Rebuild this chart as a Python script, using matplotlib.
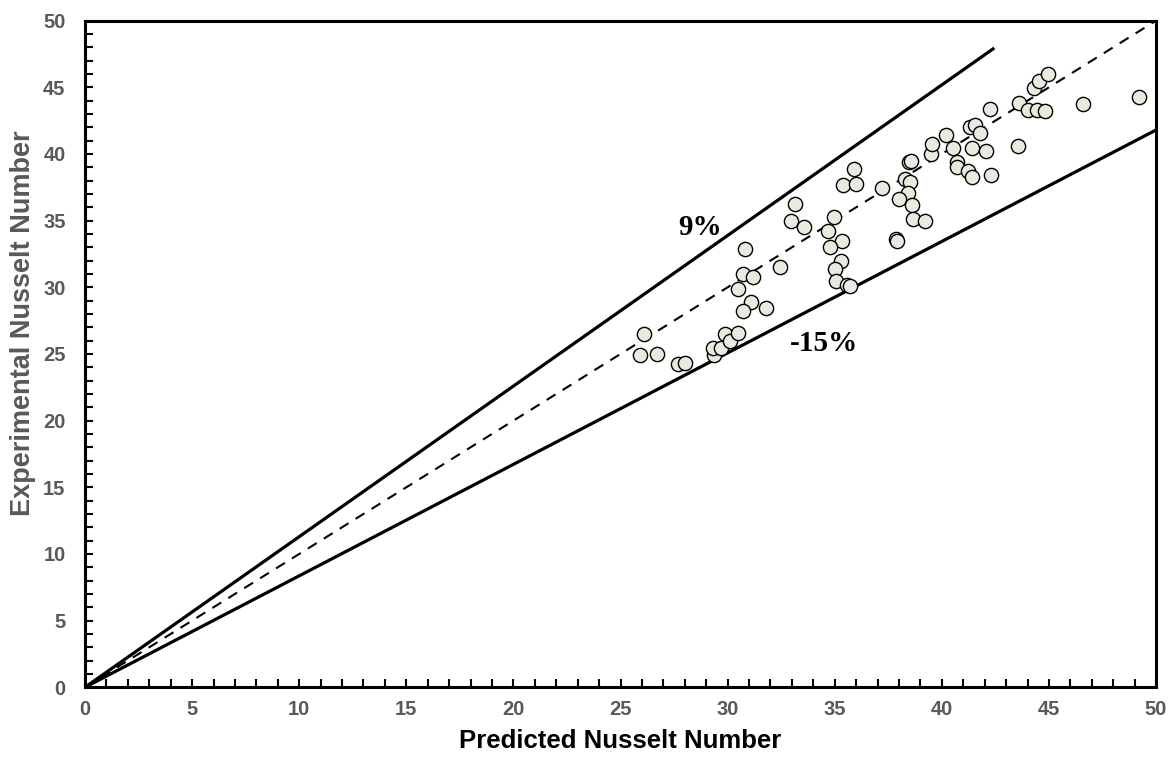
import matplotlib
matplotlib.use("Agg")
import matplotlib.pyplot as plt
from matplotlib.ticker import MultipleLocator

# predicted / experimental Nusselt numbers
nu_pred = [25.9, 26.1, 26.7, 27.7, 28.0, 29.35, 29.3, 29.7, 29.9, 30.1,
           30.5, 30.5, 30.7, 31.2, 31.1, 30.7, 31.8, 32.45, 30.8, 33.15,
           32.95, 33.55, 34.95, 34.7, 35.35, 34.8, 35.3, 35.0, 35.05, 35.55,
           35.7, 35.9, 35.4, 36.0, 37.2, 37.85, 37.9, 38.45, 38.3, 38.5,
           38.4, 38.0, 38.6, 38.65, 39.2, 38.55, 39.5, 39.55, 40.2, 40.5,
           40.7, 40.7, 41.2, 41.4, 41.4, 41.3, 41.55, 41.8, 42.05, 42.3,
           42.25, 43.55, 43.6, 44.0, 44.45, 44.8, 44.3, 44.55, 44.95, 46.6,
           49.2]
nu_exp = [24.9, 26.5, 25.0, 24.25, 24.35, 24.95, 25.45, 25.45, 26.5, 26.0,
          26.6, 29.9, 31.0, 30.75, 28.9, 28.25, 28.45, 31.5, 32.9, 36.25,
          34.95, 34.5, 35.25, 34.25, 33.5, 33.05, 32.0, 31.4, 30.5, 30.15,
          30.1, 38.9, 37.65, 37.75, 37.45, 33.65, 33.5, 39.4, 38.1, 37.9,
          37.05, 36.6, 36.2, 35.1, 35.0, 39.45, 40.0, 40.75, 41.4, 40.45,
          39.4, 39.0, 38.75, 38.3, 40.45, 42.0, 42.2, 41.6, 40.2, 38.45,
          43.35, 40.6, 43.8, 43.3, 43.3, 43.25, 44.95, 45.45, 46.0, 43.75,
          44.25]

# deviation lines (start, end) in data units
upper_x = [0, 42.45]
upper_y = [0, 47.95]
lower_x = [0, 50]
lower_y = [0, 41.8]
equal_x = [0, 50]
equal_y = [0, 50]

grey = "#595959"

fig = plt.figure(figsize=(11.74, 7.57), dpi=100)
ax = fig.add_axes([0.0724, 0.0921, 0.9123, 0.8806])

ax.plot(upper_x, upper_y, color="black", lw=2.3, solid_capstyle="butt")
ax.plot(lower_x, lower_y, color="black", lw=2.3, solid_capstyle="butt")
ax.plot(equal_x, equal_y, color="black", lw=1.5, ls=(0, (5, 4)))
ax.scatter(nu_pred, nu_exp, s=105, facecolor="#E9E9DF", edgecolor="black",
           linewidth=1.0, zorder=3)

ax.text(28.7, 34.5, "9%", family="Liberation Serif", weight="bold",
        fontsize=21, ha="center", va="center")
ax.text(34.5, 25.75, "-15%", family="Liberation Serif", weight="bold",
        fontsize=21, ha="center", va="center")

ax.set_xlim(0, 50)
ax.set_ylim(0, 50)
ax.xaxis.set_major_locator(MultipleLocator(5))
ax.yaxis.set_major_locator(MultipleLocator(5))
ax.xaxis.set_minor_locator(MultipleLocator(1))
ax.yaxis.set_minor_locator(MultipleLocator(1))
ax.tick_params(which="both", direction="in", length=6, width=1.5,
               color="black")
ax.tick_params(which="major", labelsize=14.5, labelcolor=grey)
ax.tick_params(axis="x", which="major", pad=9)
ax.tick_params(axis="y", which="major", pad=14)
for lab in ax.get_xticklabels() + ax.get_yticklabels():
    lab.set_family("Liberation Sans")
    lab.set_weight("bold")

for sp in ax.spines.values():
    sp.set_linewidth(2.2)

ax.set_xlabel("Predicted Nusselt Number", family="Liberation Sans",
              weight="bold", fontsize=18.5, color="black", labelpad=7)
ax.set_ylabel("Experimental Nusselt Number", family="Liberation Sans",
              weight="bold", fontsize=19.5, color=grey)
ax.yaxis.set_label_coords(-0.046, 0.5465)

fig.savefig("out.png", dpi=100)
